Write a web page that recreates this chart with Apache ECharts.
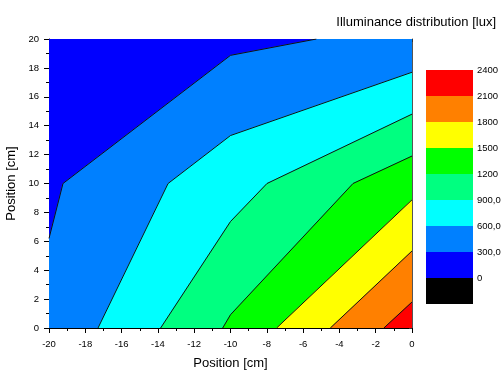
<!DOCTYPE html>
<html>
<head>
<meta charset="utf-8">
<script src="https://cdn.jsdelivr.net/npm/echarts@6/dist/echarts.min.js"></script>
<style>
  html, body { margin: 0; padding: 0; background: #fff; }
  #chart { width: 502px; height: 371px; }
</style>
</head>
<body>
<div id="chart"></div>
<script>
// Contour levels of the illuminance map [lux] and their colour-bar labels
const levels = [0, 300, 600, 900, 1200, 1500, 1800, 2100, 2400];
const levelLabels = ['0', '300,0', '600,0', '900,0', '1200', '1500', '1800', '2100', '2400'];
// Band colours: below 0, 0-300, 300-600, ... , 2100-2400
const bandColors = ['#000000', '#0000FF', '#0080FF', '#00FFFF', '#00FF80', '#00FF00', '#FFFF00', '#FF8000', '#FF0000'];

// Iso-lines, [x cm, y cm], running from the left/bottom edge to the top/right edge
const line300 = [[-20, 6.2], [-19.23, 10], [-10, 18.87], [-5.27, 20]];
const line600 = [[-17.3, 0], [-13.44, 10], [-10, 13.32], [0, 17.7]];
const line900 = [[-13.85, 0], [-10, 7.37], [-7.99, 10], [0, 14.8]];
const line1200 = [[-10.43, 0], [-10, 0.92], [-3.25, 10], [0, 11.9]];
const line1500 = [[-7.46, 0], [0, 8.87]];
const line1800 = [[-4.5, 0], [0, 5.33]];
const line2100 = [[-1.55, 0], [0, 1.8]];

const contourLevels = [300, 600, 900, 1200, 1500, 1800, 2100];
const contourLines = [line300, line600, line900, line1200, line1500, line1800, line2100];

const X_MIN = -20, X_MAX = 0, Y_MIN = 0, Y_MAX = 20;
const FONT = '"Liberation Sans", Arial, sans-serif';

// Position along the frame, clockwise from the top-left corner
function perim(p) {
  const e = 1e-6, [x, y] = p;
  if (y >= Y_MAX - e) return x - X_MIN;
  if (x >= X_MAX - e) return 20 + (Y_MAX - y);
  if (y <= Y_MIN + e) return 40 + (X_MAX - x);
  return 60 + (y - Y_MIN);
}
const corners = [[0, [X_MIN, Y_MAX]], [20, [X_MAX, Y_MAX]], [40, [X_MAX, Y_MIN]], [60, [X_MIN, Y_MIN]]];

// Region above a level: the iso-line closed round the frame through the high (bottom-right) side
function regionAbove(line) {
  const pts = line.slice();
  const tEnd = perim(line[line.length - 1]);
  let tStart = perim(line[0]);
  if (tStart <= tEnd) tStart += 80;
  for (let k = 0; k < 8; k++) {
    const c = corners[k % 4];
    const t = c[0] + (k >= 4 ? 80 : 0);
    if (t > tEnd && t < tStart) pts.push(c[1]);
  }
  return pts;
}

const fillItems = [-1].concat(contourLevels.map((_, k) => k));

const chart = echarts.init(document.getElementById('chart'), null, { renderer: 'canvas' });

const axisCommon = {
  type: 'value',
  interval: 2,
  splitLine: { show: false },
  axisLine: { show: true, onZero: false, lineStyle: { color: '#000', width: 1 } },
  axisTick: { show: true, inside: false, length: 5, lineStyle: { color: '#000' } },
  minorTick: { show: true, splitNumber: 2, length: 3, lineStyle: { color: '#000' } },
  axisLabel: { color: '#000', fontSize: 9.5, fontFamily: FONT },
  nameTextStyle: { color: '#000', fontSize: 13, fontFamily: FONT }
};
const frameAxis = {
  type: 'value',
  interval: 2,
  splitLine: { show: false },
  axisLine: { show: true, onZero: false, lineStyle: { color: '#555', width: 1 } },
  axisTick: { show: true, inside: true, length: 3, lineStyle: { color: '#333' } },
  minorTick: { show: true, splitNumber: 2, length: 2, lineStyle: { color: '#333' } },
  axisLabel: { show: false }
};

chart.setOption({
  animation: false,
  backgroundColor: '#fff',
  title: {
    text: 'Illuminance distribution [lux]',
    right: 1, top: 11,
    textStyle: { fontSize: 13, fontWeight: 'normal', color: '#000', fontFamily: FONT }
  },
  grid: [
    { left: 49, top: 39, width: 363, height: 289, containLabel: false, outerBoundsMode: 'none' },
    { left: 426, top: 70, width: 47, height: 234, containLabel: false, outerBoundsMode: 'none' }
  ],
  xAxis: [
    Object.assign({}, axisCommon, {
      gridIndex: 0, min: X_MIN, max: X_MAX, position: 'bottom',
      name: 'Position [cm]', nameLocation: 'middle', nameGap: 29,
      axisLabel: Object.assign({}, axisCommon.axisLabel, { margin: 11 })
    }),
    Object.assign({}, frameAxis, { gridIndex: 0, min: X_MIN, max: X_MAX, position: 'top' }),
    { type: 'value', gridIndex: 1, min: 0, max: 1, show: false }
  ],
  yAxis: [
    Object.assign({}, axisCommon, {
      gridIndex: 0, min: Y_MIN, max: Y_MAX, position: 'left',
      name: 'Position [cm]', nameLocation: 'middle', nameGap: 26,
      axisLabel: Object.assign({}, axisCommon.axisLabel, { margin: 10 })
    }),
    Object.assign({}, frameAxis, { gridIndex: 0, min: Y_MIN, max: Y_MAX, position: 'right' }),
    {
      type: 'value', gridIndex: 1, min: levels[0] - 300, max: levels[levels.length - 1], interval: 300,
      position: 'right',
      splitLine: { show: false }, axisLine: { show: false }, axisTick: { show: false },
      axisLabel: {
        color: '#000', fontSize: 9.5, fontFamily: FONT, margin: 4,
        formatter: v => { const i = levels.indexOf(v); return i >= 0 ? levelLabels[i] : ''; }
      }
    }
  ],
  series: [
    {
      // filled bands: base colour, then each region above a level
      type: 'custom',
      xAxisIndex: 0, yAxisIndex: 0,
      clip: true,
      data: fillItems.map(k => [k]),
      encode: { x: -1, y: -1 },
      silent: true,
      renderItem: (params, api) => {
        const k = fillItems[params.dataIndex];
        let pts, color;
        if (k < 0) {
          pts = [[X_MIN, Y_MAX], [X_MAX, Y_MAX], [X_MAX, Y_MIN], [X_MIN, Y_MIN]];
          color = bandColors[levels.indexOf(contourLevels[0])];
        } else {
          pts = regionAbove(contourLines[k]);
          color = bandColors[levels.indexOf(contourLevels[k]) + 1];
        }
        return {
          type: 'polygon',
          shape: { points: pts.map(p => api.coord(p)) },
          style: { fill: color, stroke: color, lineWidth: 0.5 }
        };
      },
      z: 1
    }
  ].concat(contourLines.map(l => ({
    type: 'line',
    xAxisIndex: 0, yAxisIndex: 0,
    data: l,
    symbol: 'none',
    silent: true,
    lineStyle: { color: '#111', width: 1 },
    z: 2
  }))).concat([
    {
      // colour bar
      type: 'custom',
      xAxisIndex: 2, yAxisIndex: 2,
      data: bandColors.map((c, i) => [i === 0 ? levels[0] - 300 : levels[i - 1], levels[i], i]),
      encode: { x: -1, y: [0, 1] },
      silent: true,
      renderItem: (params, api) => {
        const lo = api.value(0), hi = api.value(1), i = api.value(2);
        const a = api.coord([0, hi]), b = api.coord([1, lo]);
        return {
          type: 'rect',
          shape: { x: a[0], y: a[1], width: b[0] - a[0], height: b[1] - a[1] },
          style: { fill: bandColors[i] }
        };
      }
    }
  ])
});
</script>
</body>
</html>
